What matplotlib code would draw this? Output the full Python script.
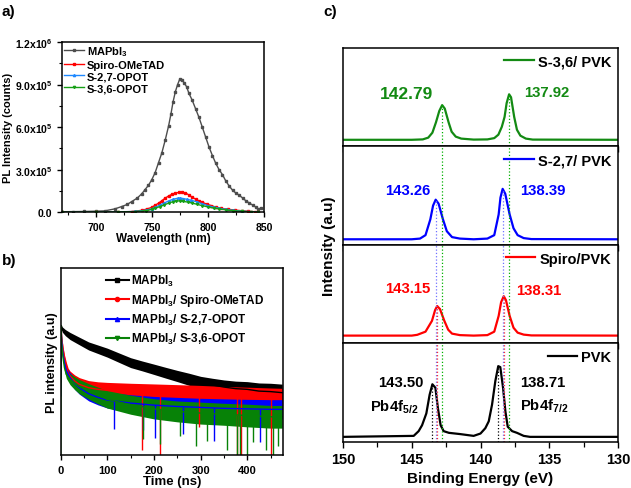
import numpy as np
from matplotlib import pyplot as plt
from matplotlib.lines import Line2D
from matplotlib.ticker import MultipleLocator, NullLocator, FixedLocator, FixedFormatter

plt.rcParams.update({
    'font.family': 'Liberation Sans',
    'font.weight': 'bold',
    'axes.labelweight': 'bold',
    'mathtext.fontset': 'custom',
    'mathtext.rm': 'Liberation Sans:bold',
    'mathtext.it': 'Liberation Sans:bold',
    'mathtext.bf': 'Liberation Sans:bold',
    'mathtext.default': 'rm',
    'axes.linewidth': 1.1,
    'xtick.direction': 'out',
    'ytick.direction': 'out',
})

# ---- panel a: steady-state PL (counts) ----
wl_mapi = [670, 680, 690, 700, 708, 717, 723, 728, 732, 737, 741, 744, 747, 750, 753, 756,
           759, 762, 765, 767, 769, 771, 773, 775, 777, 779, 781, 783, 786, 789, 792, 795,
           798, 801, 804, 807, 810, 813, 816, 819, 822, 825, 828, 831, 834, 837, 840, 843,
           845, 847]
pl_mapi = [0.04, 0.05, 0.06, 0.08, 0.1, 0.24, 0.4, 0.55, 0.75, 1.0, 1.3, 1.6, 1.9, 2.3, 2.8, 3.5,
           4.2, 5.1, 6.1, 6.9, 7.8, 8.5, 9.0, 9.4, 9.35, 9.1, 8.85, 8.4, 7.9, 7.3, 6.7, 6.0,
           5.3, 4.6, 4.0, 3.45, 3.0, 2.65, 2.2, 1.85, 1.55, 1.35, 1.2, 1.0, 0.8, 0.65, 0.5, 0.35,
           0.2, 0.3]
wl_spiro = [670, 700, 720, 732, 741, 746, 750, 753, 756, 759, 762, 765, 768, 771, 774, 777,
            780, 783, 786, 789, 792, 795, 799, 803, 807, 812, 818, 824, 830, 836, 842, 845]
pl_spiro = [0.01, 0.02, 0.03, 0.05, 0.14, 0.24, 0.35, 0.5, 0.64, 0.82, 1.0, 1.15, 1.27, 1.35, 1.4, 1.41,
            1.37, 1.22, 1.06, 0.93, 0.8, 0.7, 0.58, 0.47, 0.37, 0.28, 0.21, 0.16, 0.11, 0.07, 0.04, 0.03]
wl_s27 = [670, 700, 720, 735, 745, 750, 753, 757, 761, 765, 769, 773, 775, 778, 781, 785,
          790, 795, 800, 805, 810, 816, 822, 830, 838, 845]
pl_s27 = [0.01, 0.02, 0.03, 0.06, 0.15, 0.25, 0.35, 0.5, 0.65, 0.8, 0.92, 0.99, 1.0, 0.97, 0.92, 0.85,
          0.74, 0.6, 0.47, 0.36, 0.28, 0.2, 0.14, 0.08, 0.05, 0.03]
wl_s36 = [670, 700, 720, 735, 745, 750, 753, 757, 761, 765, 769, 772, 775, 778, 782, 786,
          790, 795, 800, 805, 810, 816, 822, 830, 838, 845]
pl_s36 = [0.01, 0.015, 0.02, 0.05, 0.12, 0.2, 0.28, 0.4, 0.52, 0.65, 0.75, 0.8, 0.8, 0.77, 0.72, 0.65,
          0.57, 0.47, 0.38, 0.3, 0.24, 0.17, 0.12, 0.07, 0.04, 0.02]
a_ticks = [0, 3e5, 6e5, 9e5, 1.2e6]
a_ticklabels = ['0.0', '3.0x10$^{5}$', '6.0x10$^{5}$', '9.0x10$^{5}$', '1.2x10$^{6}$']

# ---- panel b: TRPL decay (counts, log axis): centre of the noisy trace + noise band factor ----
t_mapi = [1, 3, 10, 20, 40, 60, 80, 100, 125, 150, 175, 200, 225, 250, 275, 300, 325, 350,
          375, 400, 425, 450, 475]
tr_mapi = [1175, 1038, 918, 811, 674, 561, 496, 438, 364, 303, 268, 237, 209, 185, 164, 145,
           133, 123, 116, 113, 106, 104, 100]
nz_mapi = [1.08, 1.1, 1.12, 1.14, 1.15, 1.16, 1.17, 1.18, 1.19, 1.2, 1.2, 1.21, 1.22, 1.23,
           1.25, 1.26, 1.28, 1.3, 1.32, 1.33, 1.35, 1.36, 1.37]
t_spiro = [0, 1, 2, 5, 8, 12, 16, 20, 30, 40, 60, 80, 100, 150, 200, 250, 300, 350, 400, 450, 475]
tr_spiro = [147, 1104, 762, 496, 364, 268, 209, 185, 154, 136, 120, 113, 109, 104, 100, 96, 92,
            88, 85, 82, 81]
nz_spiro = [1.0, 1.05, 1.08, 1.1, 1.12, 1.15, 1.18, 1.2, 1.25, 1.28, 1.3, 1.32, 1.34, 1.36,
            1.38, 1.4, 1.42, 1.43, 1.44, 1.45, 1.45]
t_s27 = [0, 1, 2, 5, 8, 12, 20, 30, 40, 60, 80, 100, 150, 200, 250, 300, 350, 400, 450, 475]
tr_s27 = [89, 1104, 674, 412, 303, 223, 174, 140, 120, 96, 84, 76, 68, 63, 60, 58, 56, 55, 54, 54]
nz_s27 = [1.0, 1.05, 1.08, 1.1, 1.12, 1.15, 1.2, 1.24, 1.27, 1.3, 1.32, 1.34, 1.36, 1.38,
          1.4, 1.4, 1.42, 1.42, 1.43, 1.43]
t_s36 = [0, 1, 2, 5, 8, 12, 20, 30, 40, 60, 80, 100, 150, 200, 250, 300, 350, 400, 450, 475]
tr_s36 = [10, 1175, 596, 364, 252, 197, 164, 142, 125, 105, 90, 78, 64, 55, 50, 47, 45, 43, 41, 41]
nz_s36 = [1.0, 1.05, 1.08, 1.1, 1.13, 1.16, 1.22, 1.27, 1.3, 1.33, 1.36, 1.38, 1.42, 1.45,
          1.47, 1.5, 1.5, 1.52, 1.52, 1.52]
spike_t_spiro = [175, 213, 296, 377, 386, 451]
spike_v_spiro = [12, 10, 28, 10, 10, 10]
spike_t_s27 = [114, 177, 203, 262, 328, 427]
spike_v_s27 = [26, 25, 19, 22, 17, 16]
spike_t_s36 = [177, 213, 256, 291, 313, 356, 377, 384, 399, 413, 440, 456, 465]
spike_v_s36 = [18, 15, 20, 14, 17, 12, 10, 10, 10, 16, 12, 10, 14]

# ---- panel c: XPS Pb4f (normalised per sub-panel) ----
be_s36 = [150, 145, 144.2, 143.8, 143.5, 143.24, 143.0, 142.79, 142.6, 142.32, 142.1, 141.8,
          141.4, 140.5, 139.5, 139.0, 138.7, 138.45, 138.25, 138.1, 137.92, 137.78, 137.55,
          137.35, 137.1, 136.7, 136.2, 130]
xps_s36 = [0.068, 0.068, 0.072, 0.09, 0.14, 0.245, 0.36, 0.42, 0.385, 0.245, 0.15, 0.1,
           0.08, 0.07, 0.072, 0.085, 0.12, 0.2, 0.30, 0.44, 0.53, 0.5, 0.3,
           0.17, 0.11, 0.08, 0.07, 0.068]
be_s27 = [150, 145, 144.4, 144.0, 143.65, 143.45, 143.26, 143.05, 142.73, 142.45, 142.07,
          141.5, 140.5, 139.5, 139.0, 138.68, 138.55, 138.39, 138.2, 137.88, 137.6, 137.3,
          136.86, 136.3, 130]
xps_s27 = [0.058, 0.058, 0.065, 0.1, 0.26, 0.4, 0.46, 0.42, 0.26, 0.14, 0.08,
           0.065, 0.058, 0.065, 0.1, 0.31, 0.48, 0.57, 0.52, 0.31, 0.17, 0.1,
           0.07, 0.06, 0.058]
be_spiro = [150, 145, 144.6, 144.0, 143.53, 143.3, 143.15, 142.95, 142.63, 142.35, 142.07,
            141.5, 140.5, 139.5, 139.0, 138.68, 138.5, 138.31, 138.15, 137.88, 137.6, 137.3,
            136.86, 136.3, 130]
xps_spiro = [0.08, 0.08, 0.088, 0.12, 0.23, 0.34, 0.38, 0.35, 0.23, 0.14, 0.1,
             0.085, 0.08, 0.085, 0.12, 0.28, 0.42, 0.48, 0.44, 0.28, 0.16, 0.11,
             0.09, 0.082, 0.08]
be_pvk = [150, 144.86, 144.5, 144.25, 143.94, 143.7, 143.5, 143.28, 143.1, 142.9, 142.68,
          142.3, 141.47, 140.5, 140.0, 139.65, 139.4, 139.16, 138.92, 138.71, 138.56, 138.36,
          138.19, 138.02, 137.7, 137.35, 136.86, 136.4, 130]
xps_pvk = [0.052, 0.062, 0.11, 0.17, 0.29, 0.48, 0.586, 0.55, 0.345, 0.17, 0.11,
           0.093, 0.08, 0.062, 0.086, 0.14, 0.21, 0.38, 0.62, 0.77, 0.76, 0.55,
           0.31, 0.155, 0.11, 0.093, 0.062, 0.052, 0.052]
peaks_s36 = [142.79, 137.92]
peaks_s27 = [143.26, 138.39]
peaks_spiro = [143.15, 138.31]
peaks_pvk = [143.50, 138.71]

fig = plt.figure(figsize=(6.31, 4.89), dpi=100)

# ================= a) =================
ax = fig.add_axes([0.0983, 0.5638, 0.3201, 0.3483])
ax.plot(wl_mapi, np.array(pl_mapi) * 1e5, color='#4d4d4d', lw=1, marker='s', ms=1.6, label='MAPbI$_3$')
ax.plot(wl_spiro, np.array(pl_spiro) * 1e5, color='#ff0000', lw=1, marker='s', ms=1.6, label='Spiro-OMeTAD')
ax.plot(wl_s27, np.array(pl_s27) * 1e5, color='#1e88ff', lw=1, marker='^', ms=1.6, label='S-2,7-OPOT')
ax.plot(wl_s36, np.array(pl_s36) * 1e5, color='#16a016', lw=1, marker='v', ms=1.6, label='S-3,6-OPOT')
ax.set_xlim(670, 850)
ax.set_ylim(0, 1.2e6)
ax.xaxis.set_major_locator(FixedLocator([700, 750, 800, 850]))
ax.xaxis.set_minor_locator(MultipleLocator(25))
ax.yaxis.set_major_locator(FixedLocator(a_ticks))
ax.yaxis.set_major_formatter(FixedFormatter(a_ticklabels))
ax.yaxis.set_minor_locator(MultipleLocator(1.5e5))
ax.tick_params(which='major', labelsize=7.5, length=3.5, width=1)
ax.tick_params(which='minor', length=2, width=0.8)
ax.set_xlabel('Wavelength (nm)', fontsize=8.5, labelpad=0)
ax.set_ylabel('PL Intensity (counts)', fontsize=8, labelpad=1)
ax.legend(loc='upper left', fontsize=8, frameon=False, handlelength=1.8, handletextpad=0.25,
          labelspacing=0.15, borderaxespad=0.05, borderpad=0.15)

# ================= b) =================
ax = fig.add_axes([0.0962, 0.0675, 0.3518, 0.3824])
series_b = [
    (t_mapi, tr_mapi, nz_mapi, [], [], '#000000', 's', 'MAPbI$_3$'),
    (t_spiro, tr_spiro, nz_spiro, spike_t_spiro, spike_v_spiro, '#ff0000', 'o', 'MAPbI$_3$/ Spiro-OMeTAD'),
    (t_s27, tr_s27, nz_s27, spike_t_s27, spike_v_s27, '#0000ff', '^', 'MAPbI$_3$/ S-2,7-OPOT'),
    (t_s36, tr_s36, nz_s36, spike_t_s36, spike_v_s36, '#078207', 'v', 'MAPbI$_3$/ S-3,6-OPOT'),
]
handles = []
for t, v, f, st, sv, c, m, lab in series_b:
    t = np.array(t, dtype=float)
    v = np.array(v, dtype=float)
    f = np.array(f)
    ax.fill_between(t, v / f, v * f, color=c, lw=0)
    ax.plot(t, v, color=c, lw=1)
    if st:
        top = np.interp(st, t, v)
        ax.vlines(st, sv, top, color=c, lw=1)
    handles.append(Line2D([], [], color=c, lw=1.5, marker=m, ms=3))
ax.set_yscale('log')
ax.set_xlim(0, 476)
ax.set_ylim(10, 1e4)
ax.yaxis.set_major_locator(NullLocator())
ax.yaxis.set_minor_locator(NullLocator())
ax.xaxis.set_major_locator(MultipleLocator(100))
ax.xaxis.set_minor_locator(MultipleLocator(50))
ax.tick_params(which='major', labelsize=8, length=3.5, width=1)
ax.tick_params(which='minor', length=2, width=0.8)
ax.set_xlabel('Time (ns)', fontsize=9.5, labelpad=0)
ax.set_ylabel('PL intensity (a.u)', fontsize=9, labelpad=2)
ax.legend(handles, [s[-1] for s in series_b], loc='upper left', bbox_to_anchor=(0.17, 1.01),
          fontsize=8.5, frameon=False, handlelength=2.0, handletextpad=0.15,
          labelspacing=0.33, borderaxespad=0.2)

# ================= c) =================
panels_c = [
    (be_s36, xps_s36, peaks_s36, '#138a13', 'S-3,6/ PVK'),
    (be_s27, xps_s27, peaks_s27, '#0000ff', 'S-2,7/ PVK'),
    (be_spiro, xps_spiro, peaks_spiro, '#ff0000', 'Spiro/PVK'),
    (be_pvk, xps_pvk, peaks_pvk, '#000000', 'PVK'),
]
dot_colors = ['#00b000', '#7070ff', '#ff3030', '#000000']
labels_c = [
    [('142.79', 145.35, 0.54, 12.5), ('137.92', 135.2, 0.55, 10.7)],
    [('143.26', 145.3, 0.56, 10.7), ('138.39', 135.5, 0.56, 10.7)],
    [('143.15', 145.3, 0.56, 10.7), ('138.31', 135.8, 0.54, 10.7)],
    [('143.50', 145.8, 0.61, 10.7), ('138.71', 135.5, 0.61, 10.7),
     ('Pb4f$_{5/2}$', 146.3, 0.36, 10.7), ('Pb4f$_{7/2}$', 135.4, 0.37, 10.7)],
]
bottom, top = 0.0941, 0.8998
h = (top - bottom) / 4
for i, (be, y, pk, c, lab) in enumerate(panels_c):
    ax = fig.add_axes([0.5436, top - (i + 1) * h, 0.4358, h])
    ax.plot(be, y, color=c, lw=1.6, label=lab)
    # dotted guide lines from this and the panels above
    for j in range(i + 1):
        for p in panels_c[j][2]:
            if j == i:
                ax.vlines(p, 0, np.interp(p, be[::-1], y[::-1]), color=dot_colors[j], lw=0.9, ls=':')
            else:
                ax.axvline(p, color=dot_colors[j], lw=0.9, ls=':')
    for s, xx, yy, fs in labels_c[i]:
        ax.text(xx, yy, s, color=c, fontsize=fs, ha='center', va='center')
    ax.set_xlim(150, 130)
    ax.set_ylim(0, 1)
    ax.yaxis.set_major_locator(NullLocator())
    ax.xaxis.set_major_locator(MultipleLocator(5))
    ax.xaxis.set_minor_locator(MultipleLocator(2.5))
    ax.tick_params(which='major', labelsize=10.5, length=4, width=1)
    ax.tick_params(which='minor', length=3.5, width=0.9)
    ax.legend(loc='upper right', fontsize=10.5, frameon=False, handlelength=2.0,
              handletextpad=0.3, borderaxespad=0.25, borderpad=0.2)
    if i < 3:
        ax.tick_params(labelbottom=False)
    else:
        ax.set_xlabel('Binding Energy (eV)', fontsize=11, labelpad=3)
fig.text(0.521, 0.497, 'Intensity (a.u)', rotation=90, ha='center', va='center', fontsize=11)

fig.text(0.003, 0.975, 'a)', fontsize=11, va='center')
fig.text(0.003, 0.467, 'b)', fontsize=11, va='center')
fig.text(0.512, 0.975, 'c)', fontsize=11, va='center')

fig.savefig('out.png', dpi=100)
